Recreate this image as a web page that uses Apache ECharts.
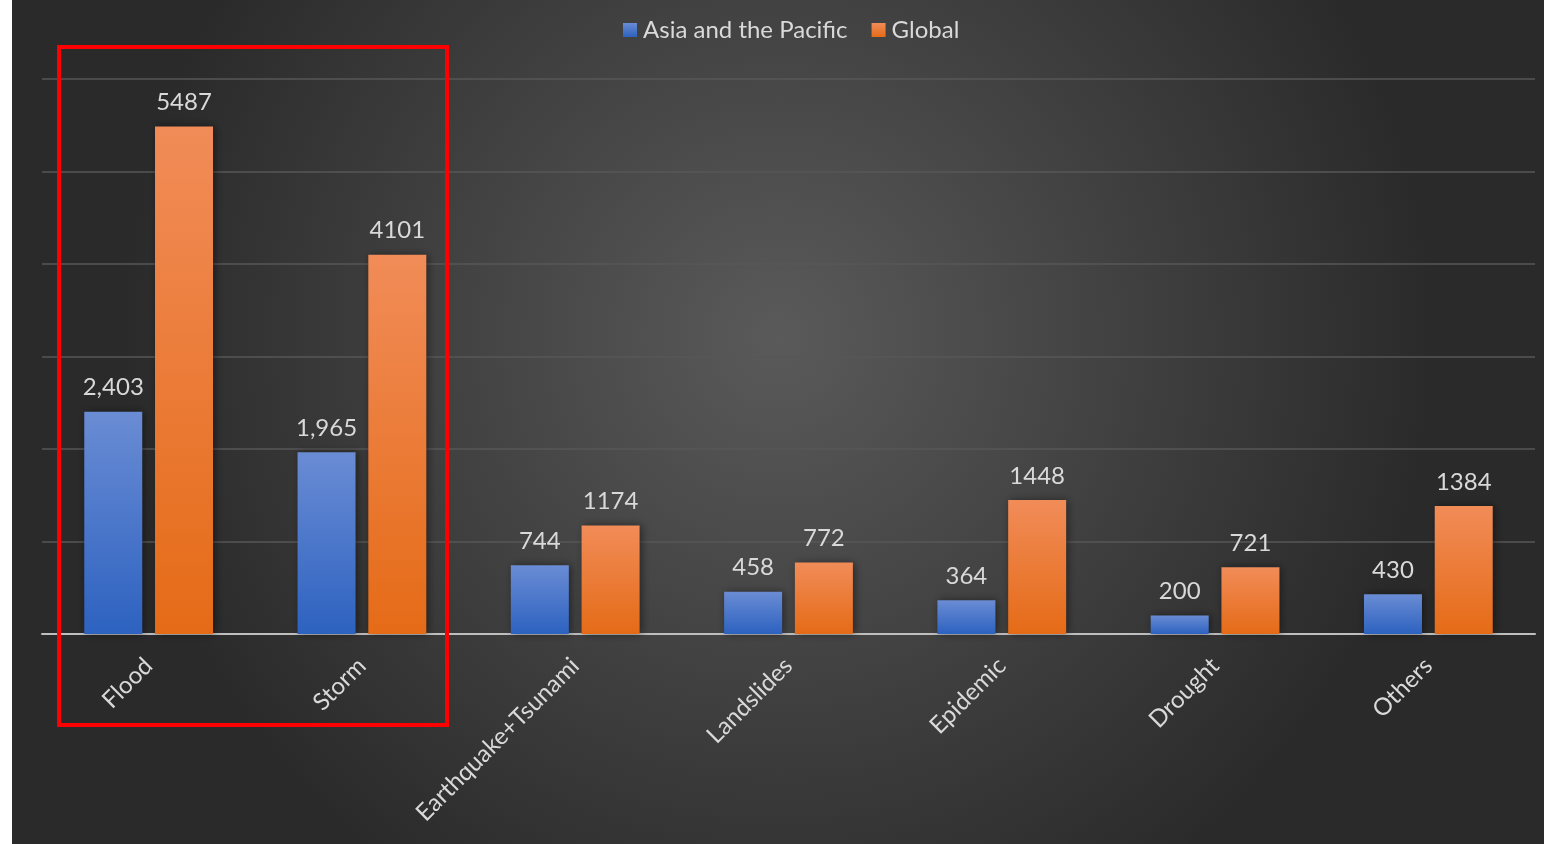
<!DOCTYPE html>
<html>
<head>
<meta charset="utf-8">
<script src="https://cdn.jsdelivr.net/npm/echarts@6/dist/echarts.min.js"></script>
<style>
html,body{margin:0;padding:0;background:#fff;width:1544px;height:844px;overflow:hidden;}
#chart{position:absolute;left:12px;top:0;width:1532px;height:844px;}
</style>
</head>
<body>
<div id="chart"></div>
<script>
const categories = ['Flood','Storm','Earthquake+Tsunami','Landslides','Epidemic','Drought','Others'];
const asiaPacific = [2403,1965,744,458,364,200,430];
const globalVals = [5487,4101,1174,772,1448,721,1384];
const seriesNames = ['Asia and the Pacific','Global'];
const yMax = 6000, yInterval = 1000;

const chart = echarts.init(document.getElementById('chart'));
const txt = '#d9d9d9';
const font = 'Lato, "Open Sans", sans-serif';
const grad = (top, bottom) => new echarts.graphic.LinearGradient(0,0,0,1,[{offset:0,color:top},{offset:1,color:bottom}]);

chart.setOption({
  backgroundColor: {
    type:'radial', x:0.5, y:0.4, r:0.78,
    colorStops:[{offset:0,color:'#5a5a5a'},{offset:1,color:'#2a2a2a'}]
  },
  textStyle:{fontFamily:font},
  legend:{
    top:13, left:606,
    itemWidth:14, itemHeight:14, itemGap:24,
    icon:'rect',
    textStyle:{color:txt,fontSize:24,fontFamily:font,padding:[0,0,0,1]},
    data:seriesNames
  },
  grid:{left:30,right:9,top:79,bottom:210,containLabel:false},
  xAxis:{
    type:'category', data:categories,
    axisLine:{lineStyle:{color:'#bfbfbf',width:2}},
    axisTick:{show:false},
    axisLabel:{rotate:45,color:txt,fontSize:24,fontFamily:font,margin:28}
  },
  yAxis:{
    type:'value', min:0, max:yMax, interval:yInterval,
    axisLabel:{show:false}, axisLine:{show:false}, axisTick:{show:false},
    splitLine:{lineStyle:{color:'#575757',width:1.5}}
  },
  series:[
    {
      name:seriesNames[0], type:'bar', data:asiaPacific,
      barWidth:58, barGap:'22%',
      itemStyle:{color:grad('#6a8cd4','#2d62c0'),shadowColor:'rgba(0,0,0,0.45)',shadowBlur:8,shadowOffsetX:2},
      label:{show:true,position:'top',distance:12,color:txt,fontSize:24,fontFamily:font,
        formatter:p=>p.value.toLocaleString('en-US')}
    },
    {
      name:seriesNames[1], type:'bar', data:globalVals,
      barWidth:58,
      itemStyle:{color:grad('#f18c58','#e56b17'),shadowColor:'rgba(0,0,0,0.45)',shadowBlur:8,shadowOffsetX:2},
      label:{show:true,position:'top',distance:12,color:txt,fontSize:24,fontFamily:font,
        formatter:p=>String(p.value)}
    }
  ],
  graphic:[
    {type:'rect', shape:{x:47,y:47,width:388,height:678},
     style:{fill:'none',stroke:'#ff0000',lineWidth:4}, z:100}
  ]
});
</script>
</body>
</html>
